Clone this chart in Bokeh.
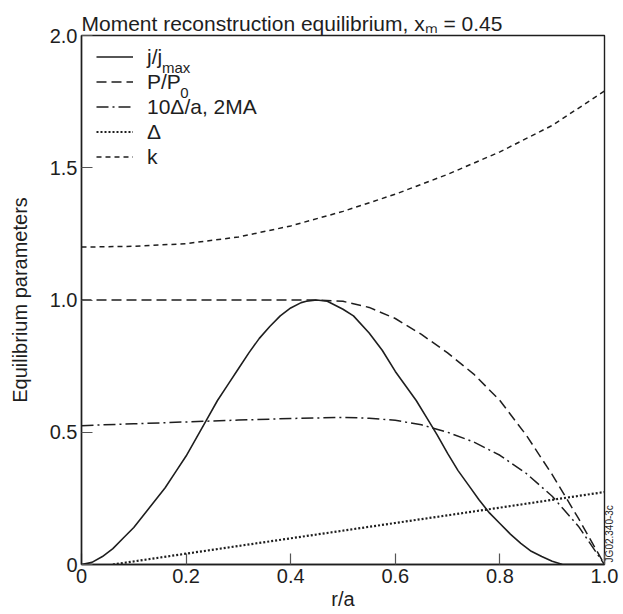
import math
from bokeh.plotting import figure
from bokeh.models import Range1d, FixedTicker, Legend, LegendItem, Label, LinearAxis
from bokeh.embed import file_html
from bokeh.resources import INLINE

# ---- data ----
r_j = [0.0, 0.02, 0.04, 0.06, 0.08, 0.10, 0.12, 0.14, 0.16, 0.18, 0.20, 0.22, 0.24,
       0.26, 0.28, 0.30, 0.32, 0.34, 0.36, 0.38, 0.40, 0.42, 0.43, 0.45, 0.47,
       0.50, 0.52, 0.55, 0.575, 0.60, 0.62, 0.64, 0.66, 0.68, 0.70, 0.72, 0.74,
       0.76, 0.78, 0.80, 0.82, 0.84, 0.86, 0.88, 0.90, 0.92, 1.0]
j_jmax = [0.0, 0.008, 0.03, 0.06, 0.10, 0.14, 0.19, 0.24, 0.29, 0.35, 0.41, 0.48, 0.55,
          0.62, 0.68, 0.74, 0.80, 0.855, 0.90, 0.94, 0.97, 0.99, 0.995, 1.0, 0.995,
          0.965, 0.94, 0.875, 0.81, 0.73, 0.675, 0.62, 0.555, 0.49, 0.42, 0.355, 0.30,
          0.245, 0.195, 0.155, 0.115, 0.08, 0.05, 0.03, 0.012, 0.0, 0.0]

r_p = [0.0, 0.2, 0.4, 0.45, 0.5, 0.55, 0.6, 0.65, 0.7, 0.75, 0.8, 0.85, 0.9, 0.95, 1.0]
p_p0 = [1.0, 1.0, 1.0, 1.0, 0.995, 0.972, 0.93, 0.87, 0.80, 0.72, 0.62, 0.49, 0.34, 0.175, 0.0]

r_d = [0.0, 0.1, 0.2, 0.3, 0.4, 0.5, 0.55, 0.6, 0.65, 0.7, 0.75, 0.8, 0.85, 0.9, 0.95, 1.0]
delta10 = [0.525, 0.532, 0.539, 0.546, 0.552, 0.556, 0.553, 0.545, 0.528, 0.50,
           0.463, 0.413, 0.345, 0.258, 0.145, 0.0]

r_s = [0.06, 0.2, 0.4, 0.6, 0.8, 1.0]
delta = [0.0, 0.041, 0.099, 0.157, 0.215, 0.274]

r_k = [0.0, 0.1, 0.2, 0.3, 0.4, 0.5, 0.6, 0.7, 0.8, 0.9, 1.0]
kappa = [1.200, 1.203, 1.213, 1.238, 1.280, 1.335, 1.400, 1.475, 1.560, 1.660, 1.790]

x_ticks = [0, 0.2, 0.4, 0.6, 0.8, 1.0]
x_tick_labels = ["0", "0.2", "0.4", "0.6", "0.8", "1.0"]
y_ticks = [0, 0.5, 1.0, 1.5, 2.0]
y_tick_labels = ["0", "0.5", "1.0", "1.5", "2.0"]

legend_labels = ["j/j", "P/P", "10\u0394/a, 2MA", "\u0394", "k"]
title_text = "Moment reconstruction equilibrium, x\u2098 = 0.45"
x_title = "r/a"
y_title = "Equilibrium parameters"
figure_id = "JG02.340-3c"

FONT = "Liberation Sans"
INK = "#1e1e1e"

p = figure(width=623, height=614, output_backend="svg", toolbar_location=None,
           x_range=Range1d(0, 1), y_range=Range1d(0, 2),
           min_border_left=81, min_border_right=12, min_border_top=35, min_border_bottom=50)
p.xgrid.visible = False
p.ygrid.visible = False
p.outline_line_color = INK
p.outline_line_width = 1.4
p.background_fill_color = "white"

p.title.text = title_text
p.title.text_font = FONT
p.title.text_font_size = "21px"
p.title.text_font_style = "normal"
p.title.text_color = INK
p.title.align = "left"
p.title.standoff = 1

for ax, ticks, labels in ((p.xaxis[0], x_ticks, x_tick_labels), (p.yaxis[0], y_ticks, y_tick_labels)):
    ax.ticker = FixedTicker(ticks=ticks)
    ax.major_label_overrides = {t: l for t, l in zip(ticks, labels)}
    ax.major_tick_in = 11
    ax.major_tick_out = 0
    ax.minor_tick_line_color = None
    ax.major_tick_line_color = "#555555"
    ax.major_tick_line_width = 1.2
    ax.axis_line_color = INK
    ax.axis_line_width = 1.4
    ax.major_label_text_font = FONT
    ax.major_label_text_font_size = "20px"
    ax.major_label_text_color = INK
    ax.major_label_standoff = 4
    ax.axis_label_text_font = FONT
    ax.axis_label_text_font_size = "20px"
    ax.axis_label_text_font_style = "normal"
    ax.axis_label_text_color = INK

p.xaxis.axis_label = x_title
p.xaxis.axis_label_standoff = 2
p.yaxis.axis_label = y_title
p.yaxis.axis_label_standoff = 16

# figure identifier on the right edge, reading upward
id_axis = LinearAxis(ticker=FixedTicker(ticks=[0.008]),
                     major_label_overrides={0.008: figure_id},
                     major_label_orientation=math.pi / 2,
                     major_label_text_font=FONT, major_label_text_font_size="10px",
                     major_label_text_color=INK, major_label_standoff=5,
                     major_tick_in=0, major_tick_out=0,
                     minor_tick_in=0, minor_tick_out=0,
                     major_tick_line_color=None, minor_tick_line_color=None,
                     axis_line_color=None)
p.add_layout(id_axis, "right")

lj = p.line(r_j, j_jmax, line_color=INK, line_width=1.6)
lp = p.line(r_p, p_p0, line_color=INK, line_width=1.5, line_dash="10 5")
ld = p.line(r_d, delta10, line_color=INK, line_width=1.5, line_dash="12 4 2 4")
ls = p.line(r_s, delta, line_color=INK, line_width=2.2, line_dash="2 2")
lk = p.line(r_k, kappa, line_color=INK, line_width=1.5, line_dash="5 4")

legend = Legend(items=[LegendItem(label=t, renderers=[rr]) for t, rr in
                       zip(legend_labels, [lj, lp, ld, ls, lk])],
                location=(15, 395), margin=0, padding=0, spacing=0,
                glyph_width=37, glyph_height=25, label_height=25, label_standoff=14,
                label_text_font=FONT, label_text_font_size="21px", label_text_color=INK,
                border_line_color=None, background_fill_alpha=0)
p.add_layout(legend)


def R(px):  # page x -> data x
    return (px - 81) / 527.0


def V(py):  # page y -> data y
    return (564 - py) / 264.5


# legend subscripts
for txt, px, py in (("max", 162, 67), ("0", 180.6, 92)):
    p.add_layout(Label(x=R(px), y=V(py), text=txt, text_font=FONT, text_font_size="15px",
                       text_color=INK, text_align="left", text_baseline="alphabetic"))

open("out.html", "w").write(file_html(p, INLINE))
